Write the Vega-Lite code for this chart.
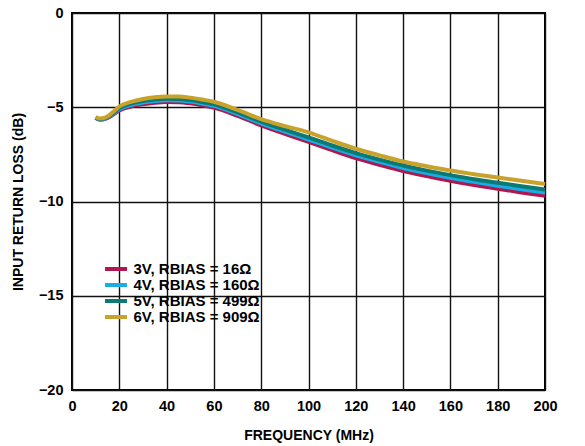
{
  "$schema": "https://vega.github.io/schema/vega-lite/v6.json",
  "width": 473,
  "height": 377,
  "autosize": "none",
  "padding": {"left": 72, "top": 13, "right": 40, "bottom": 56},
  "background": "white",
  "config": {
    "font": "Liberation Sans",
    "view": {"stroke": "black", "strokeWidth": 2},
    "axis": {
      "labelFont": "Liberation Sans", "labelFontWeight": "bold", "labelFontSize": 14.5, "labelColor": "black",
      "titleFont": "Liberation Sans", "titleFontWeight": "bold", "titleFontSize": 14, "titleColor": "black",
      "gridColor": "#111", "gridWidth": 1.4, "gridOpacity": 1, "domain": false, "ticks": false
    }
  },
  "data": {"values": [
    {"f":10,"loss":-5.56,"s":"3V, RBIAS = 16Ω"},{"f":11,"loss":-5.63,"s":"3V, RBIAS = 16Ω"},{"f":12,"loss":-5.66,"s":"3V, RBIAS = 16Ω"},{"f":14,"loss":-5.62,"s":"3V, RBIAS = 16Ω"},{"f":16,"loss":-5.5,"s":"3V, RBIAS = 16Ω"},{"f":18,"loss":-5.33,"s":"3V, RBIAS = 16Ω"},{"f":20,"loss":-5.17,"s":"3V, RBIAS = 16Ω"},{"f":25,"loss":-4.96,"s":"3V, RBIAS = 16Ω"},{"f":30,"loss":-4.84,"s":"3V, RBIAS = 16Ω"},{"f":35,"loss":-4.76,"s":"3V, RBIAS = 16Ω"},{"f":40,"loss":-4.72,"s":"3V, RBIAS = 16Ω"},{"f":45,"loss":-4.73,"s":"3V, RBIAS = 16Ω"},{"f":50,"loss":-4.79,"s":"3V, RBIAS = 16Ω"},{"f":55,"loss":-4.89,"s":"3V, RBIAS = 16Ω"},{"f":60,"loss":-5.02,"s":"3V, RBIAS = 16Ω"},{"f":70,"loss":-5.46,"s":"3V, RBIAS = 16Ω"},{"f":80,"loss":-5.96,"s":"3V, RBIAS = 16Ω"},{"f":90,"loss":-6.41,"s":"3V, RBIAS = 16Ω"},{"f":100,"loss":-6.84,"s":"3V, RBIAS = 16Ω"},{"f":110,"loss":-7.28,"s":"3V, RBIAS = 16Ω"},{"f":120,"loss":-7.7,"s":"3V, RBIAS = 16Ω"},{"f":130,"loss":-8.05,"s":"3V, RBIAS = 16Ω"},{"f":140,"loss":-8.38,"s":"3V, RBIAS = 16Ω"},{"f":150,"loss":-8.65,"s":"3V, RBIAS = 16Ω"},{"f":160,"loss":-8.9,"s":"3V, RBIAS = 16Ω"},{"f":170,"loss":-9.12,"s":"3V, RBIAS = 16Ω"},{"f":180,"loss":-9.32,"s":"3V, RBIAS = 16Ω"},{"f":190,"loss":-9.52,"s":"3V, RBIAS = 16Ω"},{"f":200,"loss":-9.7,"s":"3V, RBIAS = 16Ω"},
    {"f":10,"loss":-5.55,"s":"4V, RBIAS = 160Ω"},{"f":11,"loss":-5.61,"s":"4V, RBIAS = 160Ω"},{"f":12,"loss":-5.64,"s":"4V, RBIAS = 160Ω"},{"f":14,"loss":-5.6,"s":"4V, RBIAS = 160Ω"},{"f":16,"loss":-5.47,"s":"4V, RBIAS = 160Ω"},{"f":18,"loss":-5.29,"s":"4V, RBIAS = 160Ω"},{"f":20,"loss":-5.11,"s":"4V, RBIAS = 160Ω"},{"f":25,"loss":-4.88,"s":"4V, RBIAS = 160Ω"},{"f":30,"loss":-4.75,"s":"4V, RBIAS = 160Ω"},{"f":35,"loss":-4.67,"s":"4V, RBIAS = 160Ω"},{"f":40,"loss":-4.63,"s":"4V, RBIAS = 160Ω"},{"f":45,"loss":-4.64,"s":"4V, RBIAS = 160Ω"},{"f":50,"loss":-4.7,"s":"4V, RBIAS = 160Ω"},{"f":55,"loss":-4.8,"s":"4V, RBIAS = 160Ω"},{"f":60,"loss":-4.93,"s":"4V, RBIAS = 160Ω"},{"f":70,"loss":-5.36,"s":"4V, RBIAS = 160Ω"},{"f":80,"loss":-5.85,"s":"4V, RBIAS = 160Ω"},{"f":90,"loss":-6.29,"s":"4V, RBIAS = 160Ω"},{"f":100,"loss":-6.71,"s":"4V, RBIAS = 160Ω"},{"f":110,"loss":-7.14,"s":"4V, RBIAS = 160Ω"},{"f":120,"loss":-7.55,"s":"4V, RBIAS = 160Ω"},{"f":130,"loss":-7.9,"s":"4V, RBIAS = 160Ω"},{"f":140,"loss":-8.22,"s":"4V, RBIAS = 160Ω"},{"f":150,"loss":-8.49,"s":"4V, RBIAS = 160Ω"},{"f":160,"loss":-8.74,"s":"4V, RBIAS = 160Ω"},{"f":170,"loss":-8.96,"s":"4V, RBIAS = 160Ω"},{"f":180,"loss":-9.16,"s":"4V, RBIAS = 160Ω"},{"f":190,"loss":-9.35,"s":"4V, RBIAS = 160Ω"},{"f":200,"loss":-9.52,"s":"4V, RBIAS = 160Ω"},
    {"f":10,"loss":-5.54,"s":"5V, RBIAS = 499Ω"},{"f":11,"loss":-5.6,"s":"5V, RBIAS = 499Ω"},{"f":12,"loss":-5.62,"s":"5V, RBIAS = 499Ω"},{"f":14,"loss":-5.58,"s":"5V, RBIAS = 499Ω"},{"f":16,"loss":-5.44,"s":"5V, RBIAS = 499Ω"},{"f":18,"loss":-5.25,"s":"5V, RBIAS = 499Ω"},{"f":20,"loss":-5.05,"s":"5V, RBIAS = 499Ω"},{"f":25,"loss":-4.81,"s":"5V, RBIAS = 499Ω"},{"f":30,"loss":-4.67,"s":"5V, RBIAS = 499Ω"},{"f":35,"loss":-4.59,"s":"5V, RBIAS = 499Ω"},{"f":40,"loss":-4.55,"s":"5V, RBIAS = 499Ω"},{"f":45,"loss":-4.56,"s":"5V, RBIAS = 499Ω"},{"f":50,"loss":-4.62,"s":"5V, RBIAS = 499Ω"},{"f":55,"loss":-4.72,"s":"5V, RBIAS = 499Ω"},{"f":60,"loss":-4.85,"s":"5V, RBIAS = 499Ω"},{"f":70,"loss":-5.27,"s":"5V, RBIAS = 499Ω"},{"f":80,"loss":-5.76,"s":"5V, RBIAS = 499Ω"},{"f":90,"loss":-6.19,"s":"5V, RBIAS = 499Ω"},{"f":100,"loss":-6.6,"s":"5V, RBIAS = 499Ω"},{"f":110,"loss":-7.03,"s":"5V, RBIAS = 499Ω"},{"f":120,"loss":-7.43,"s":"5V, RBIAS = 499Ω"},{"f":130,"loss":-7.78,"s":"5V, RBIAS = 499Ω"},{"f":140,"loss":-8.09,"s":"5V, RBIAS = 499Ω"},{"f":150,"loss":-8.36,"s":"5V, RBIAS = 499Ω"},{"f":160,"loss":-8.6,"s":"5V, RBIAS = 499Ω"},{"f":170,"loss":-8.82,"s":"5V, RBIAS = 499Ω"},{"f":180,"loss":-9.01,"s":"5V, RBIAS = 499Ω"},{"f":190,"loss":-9.19,"s":"5V, RBIAS = 499Ω"},{"f":200,"loss":-9.36,"s":"5V, RBIAS = 499Ω"},
    {"f":10,"loss":-5.52,"s":"6V, RBIAS = 909Ω"},{"f":11,"loss":-5.58,"s":"6V, RBIAS = 909Ω"},{"f":12,"loss":-5.6,"s":"6V, RBIAS = 909Ω"},{"f":14,"loss":-5.55,"s":"6V, RBIAS = 909Ω"},{"f":16,"loss":-5.4,"s":"6V, RBIAS = 909Ω"},{"f":18,"loss":-5.18,"s":"6V, RBIAS = 909Ω"},{"f":20,"loss":-4.96,"s":"6V, RBIAS = 909Ω"},{"f":25,"loss":-4.71,"s":"6V, RBIAS = 909Ω"},{"f":30,"loss":-4.56,"s":"6V, RBIAS = 909Ω"},{"f":35,"loss":-4.47,"s":"6V, RBIAS = 909Ω"},{"f":40,"loss":-4.43,"s":"6V, RBIAS = 909Ω"},{"f":45,"loss":-4.43,"s":"6V, RBIAS = 909Ω"},{"f":50,"loss":-4.49,"s":"6V, RBIAS = 909Ω"},{"f":55,"loss":-4.59,"s":"6V, RBIAS = 909Ω"},{"f":60,"loss":-4.71,"s":"6V, RBIAS = 909Ω"},{"f":70,"loss":-5.14,"s":"6V, RBIAS = 909Ω"},{"f":80,"loss":-5.63,"s":"6V, RBIAS = 909Ω"},{"f":90,"loss":-6.0,"s":"6V, RBIAS = 909Ω"},{"f":100,"loss":-6.33,"s":"6V, RBIAS = 909Ω"},{"f":110,"loss":-6.78,"s":"6V, RBIAS = 909Ω"},{"f":120,"loss":-7.2,"s":"6V, RBIAS = 909Ω"},{"f":130,"loss":-7.55,"s":"6V, RBIAS = 909Ω"},{"f":140,"loss":-7.88,"s":"6V, RBIAS = 909Ω"},{"f":150,"loss":-8.13,"s":"6V, RBIAS = 909Ω"},{"f":160,"loss":-8.36,"s":"6V, RBIAS = 909Ω"},{"f":170,"loss":-8.55,"s":"6V, RBIAS = 909Ω"},{"f":180,"loss":-8.73,"s":"6V, RBIAS = 909Ω"},{"f":190,"loss":-8.9,"s":"6V, RBIAS = 909Ω"},{"f":200,"loss":-9.07,"s":"6V, RBIAS = 909Ω"}
  ]},
  "mark": {"type": "line", "strokeWidth": 4, "interpolate": "monotone"},
  "encoding": {
    "x": {"field": "f", "type": "quantitative", "title": "FREQUENCY (MHz)",
      "scale": {"domain": [0, 200], "nice": false},
      "axis": {"values": [0,20,40,60,80,100,120,140,160,180,200], "labelPadding": 9, "titlePadding": 16, "labelFlush": false}},
    "y": {"field": "loss", "type": "quantitative", "title": "INPUT RETURN LOSS (dB)",
      "scale": {"domain": [-20, 0], "nice": false},
      "axis": {"values": [-20,-15,-10,-5,0], "labelPadding": 9, "titlePadding": 13, "labelFlush": false}},
    "color": {"field": "s", "type": "nominal", "title": null,
      "scale": {"domain": ["3V, RBIAS = 16Ω","4V, RBIAS = 160Ω","5V, RBIAS = 499Ω","6V, RBIAS = 909Ω"],
        "range": ["#B0174F","#1AADE4","#0B7A75","#C9A22C"]},
      "legend": {"orient": "none", "legendX": 36, "legendY": 248, "symbolType": "M-1.91,0H1.91", "symbolSize": 132,
        "symbolStrokeWidth": 4, "labelFont": "Liberation Sans", "labelFontWeight": "bold", "labelFontSize": 15,
        "labelColor": "black", "labelOffset": 9.5, "rowPadding": 0, "padding": 0}}
  }
}
